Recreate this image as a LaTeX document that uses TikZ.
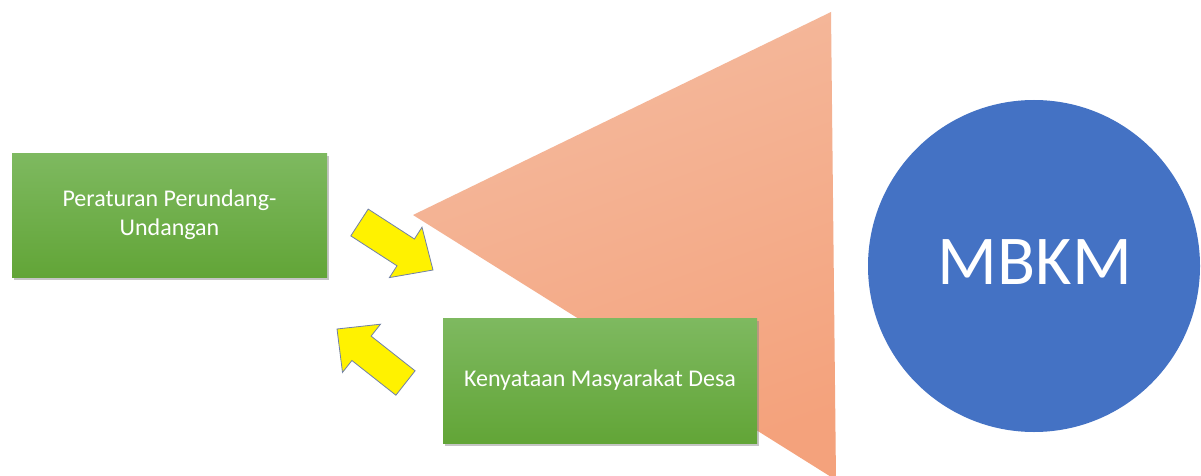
\documentclass[tikz,border=0pt]{standalone}
\usepackage{fontspec}
\setmainfont{Carlito}
\usetikzlibrary{shadows}
\definecolor{gtop}{HTML}{7EB960}
\definecolor{gbot}{HTML}{62A537}
\definecolor{ttop}{HTML}{F4BA9E}
\definecolor{tbot}{HTML}{F4A27C}
\definecolor{mblue}{HTML}{4472C4}
\definecolor{arrline}{HTML}{7080A8}
\tikzset{
  greenbox/.style={rectangle, top color=gtop, bottom color=gbot, draw=none,
    text=white, align=center, font=\fontsize{24}{29}\selectfont,
    drop shadow={opacity=0.45, shadow xshift=1.5pt, shadow yshift=-2.5pt}},
  yarrow/.style={fill=yellow, draw=arrline, line width=0.8pt, line join=miter},
  bigcircle/.style={circle, fill=mblue, draw=none, text=white,
    font=\fontsize{70}{80}\selectfont}
}
\begin{document}
\begin{tikzpicture}[x=1pt,y=-1pt]
\useasboundingbox (0,0) rectangle (1201,476);
\fill[white] (0,0) rectangle (1201,476);
\begin{scope}
\clip (0,0) rectangle (1201,476);
% triangle
\shade[top color=ttop, bottom color=tbot, shading angle=20]
  (413,215) -- (831,12) -- (836,480) -- cycle;
\end{scope}
% boxes
\node[greenbox, minimum width=315pt, minimum height=124pt] (pp) at (169.5,215)
  {Peraturan Perundang-\\Undangan};
\node[greenbox, minimum width=314pt, minimum height=125pt] (km) at (600,380.5)
  {Kenyataan Masyarakat Desa};
% circle
\node[bigcircle, minimum size=332pt, inner sep=0pt] (mb) at (1034,266) {};
\node[text=white, font=\fontsize{70}{80}\selectfont] (mbt) at (1035,262) {MBKM};
% yellow arrows
\draw[yarrow] (368.2,209.1) -- (414.4,239.0) -- (422.0,227.2) -- (433,270)
  -- (389.4,277.6) -- (397.0,265.8) -- (350.8,235.9) -- cycle;
\draw[yarrow] (415.1,370.8) -- (371.1,336.1) -- (380.5,324.2) -- (337,329)
  -- (342.5,372.4) -- (351.9,360.5) -- (395.9,395.2) -- cycle;
\end{tikzpicture}
\end{document}
